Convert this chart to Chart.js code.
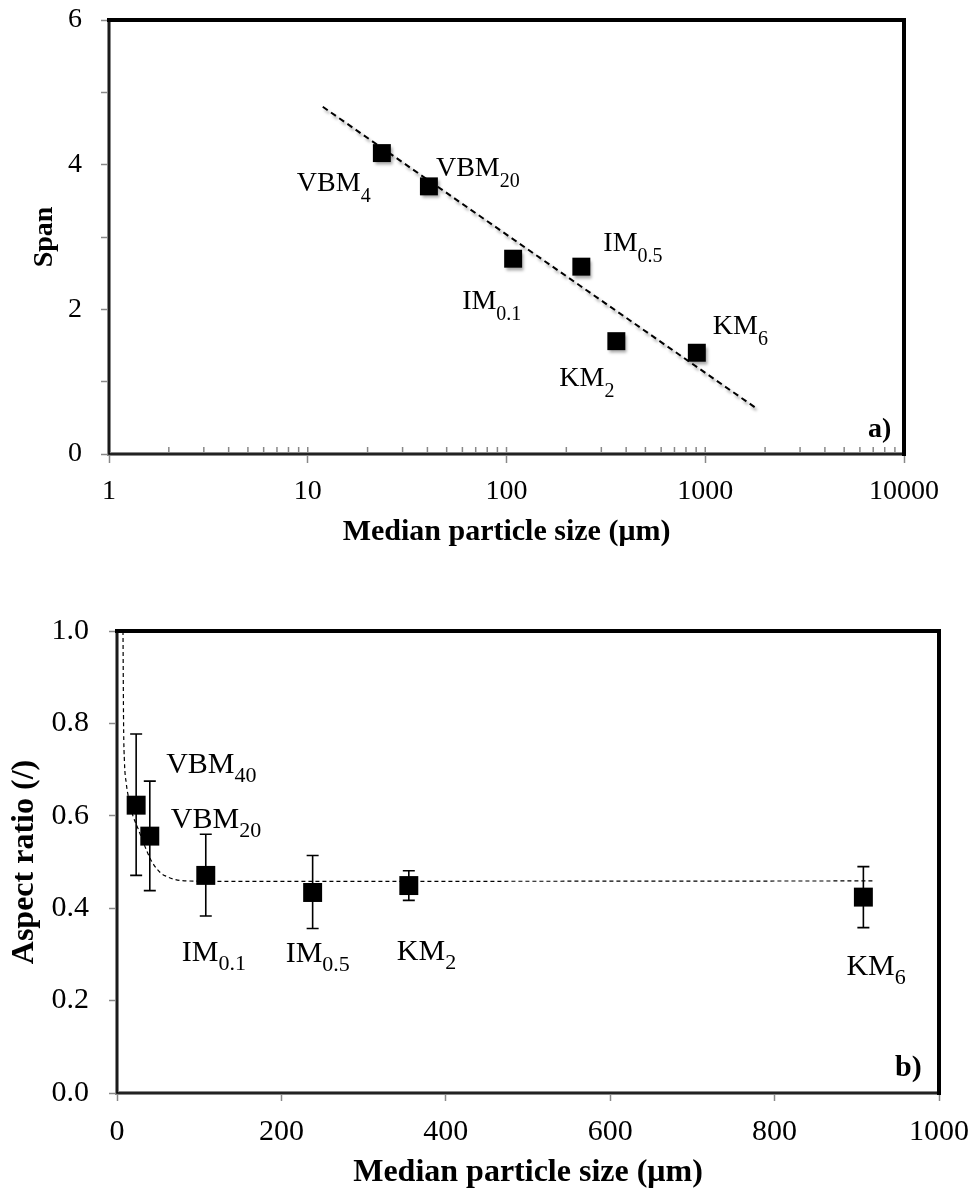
<!DOCTYPE html>
<html>
<head>
<meta charset="utf-8">
<script src="https://cdn.jsdelivr.net/npm/chart.js@4.4.1/dist/chart.umd.min.js"></script>
<style>
  body { margin: 0; background: #fff; }
  #wrap { position: relative; width: 975px; height: 1192px; }
  canvas { position: absolute; left: 0; }
  #spanChart { top: 0; }
  #ratioChart { top: 580px; }
</style>
</head>
<body>
<div id="wrap">
  <canvas id="spanChart" width="975" height="580"></canvas>
  <canvas id="ratioChart" width="975" height="612"></canvas>
</div>
<script>
// a) span vs median particle size (log x)
const spanSize = [23.6, 40.7, 108, 238, 357, 907];
const spanValue = [4.16, 3.70, 2.70, 2.59, 1.56, 1.40];
const spanMain = ['VBM', 'VBM', 'IM', 'IM', 'KM', 'KM'];
const spanSub = ['4', '20', '0.1', '0.5', '2', '6'];
const spanTrendX = [11.9, 1811];
const spanTrendY = [4.80, 0.63];
const spanXLabels = ['1', '10', '100', '1000', '10000'];
const spanYTicks = [0, 0.5, 1, 1.5, 2, 2.5, 3, 3.5, 4, 4.5, 5, 5.5, 6];
const spanYLabels = ['0', '', '', '', '2', '', '', '', '4', '', '', '', '6'];

// b) aspect ratio vs median particle size
const ratioSize = [23.3, 39.9, 108, 238, 355, 908];
const ratioValue = [0.623, 0.556, 0.471, 0.434, 0.449, 0.424];
const ratioErrHi = [0.777, 0.675, 0.560, 0.514, 0.481, 0.490];
const ratioErrLo = [0.471, 0.438, 0.383, 0.356, 0.417, 0.358];
const ratioMain = ['VBM', 'VBM', 'IM', 'IM', 'KM', 'KM'];
const ratioSub = ['40', '20', '0.1', '0.5', '2', '6'];
const fitX = [7.3, 8, 9, 11.3, 14, 19.4, 25, 30.4, 36, 42.6, 52.7, 60, 68.6, 85, 150, 920];
const fitY = [1.0, 0.8, 0.72, 0.67, 0.64, 0.60, 0.575, 0.55, 0.525, 0.50, 0.477, 0.469, 0.463, 0.459, 0.458, 0.459];
const ratioXTicks = [0, 200, 400, 600, 800, 1000];
const ratioXLabels = ['0', '200', '400', '600', '800', '1000'];
const ratioYTicks = [0, 0.2, 0.4, 0.6, 0.8, 1.0];
const ratioYLabels = ['0.0', '0.2', '0.4', '0.6', '0.8', '1.0'];

const FONT = 'Liberation Serif';

// log axis minor ticks 1..9 per decade
const spanXTicks = [];
[1, 10, 100, 1000].forEach(d => {
    for (let k = 1; k < 10; k++) spanXTicks.push(k * d);
});
spanXTicks.push(10000);

function pointNames(main, sub, dx, dy, size, subSize, subDrop, tag, tagDx, tagDy, tagSize) {
    return {
        id: 'pointNames',
        afterDatasetsDraw(chart) {
            const ctx = chart.ctx;
            const pts = chart.getDatasetMeta(0).data;
            ctx.save();
            ctx.fillStyle = '#000';
            ctx.textBaseline = 'alphabetic';
            ctx.textAlign = 'left';
            pts.forEach((p, i) => {
                const x = p.x + dx[i];
                const y = p.y + dy[i];
                ctx.font = size + 'px "' + FONT + '"';
                ctx.fillText(main[i], x, y);
                const w = ctx.measureText(main[i]).width;
                ctx.font = subSize + 'px "' + FONT + '"';
                ctx.fillText(sub[i], x + w, y + subDrop);
            });
            const a = chart.chartArea;
            ctx.font = 'bold ' + tagSize + 'px "' + FONT + '"';
            ctx.fillText(tag, a.right + tagDx, a.bottom + tagDy);
            ctx.restore();
        }
    };
}

function frame(innerXTicks) {
    return {
        id: 'frame',
        afterDraw(chart) {
            const ctx = chart.ctx;
            const a = chart.chartArea;
            ctx.save();
            // inner minor ticks on x axis
            if (innerXTicks) {
                const sx = chart.scales.x;
                ctx.strokeStyle = '#888';
                ctx.lineWidth = 1.5;
                sx.ticks.forEach((t, i) => {
                    const px = sx.getPixelForTick(i);
                    ctx.beginPath();
                    ctx.moveTo(px, a.bottom);
                    ctx.lineTo(px, a.bottom - 7);
                    ctx.stroke();
                });
            }
            ctx.strokeStyle = '#000';
            ctx.lineWidth = 1.6;
            ctx.beginPath();
            ctx.moveTo(a.left, a.top);
            ctx.lineTo(a.left, a.bottom);
            ctx.lineTo(a.right, a.bottom);
            ctx.stroke();
            ctx.lineWidth = 4;
            ctx.beginPath();
            ctx.moveTo(a.left - 2, a.top);
            ctx.lineTo(a.right, a.top);
            ctx.lineTo(a.right, a.bottom + 2);
            ctx.stroke();
            ctx.restore();
        }
    };
}

const shadow = {
    id: 'shadow',
    beforeDatasetsDraw(chart) {
        const ctx = chart.ctx;
        ctx.save();
        ctx.shadowColor = 'rgba(0,0,0,0.35)';
        ctx.shadowOffsetX = 2;
        ctx.shadowOffsetY = 3;
        ctx.shadowBlur = 3;
    },
    afterDatasetsDraw(chart) {
        chart.ctx.restore();
    }
};

function errorBars(hi, lo, cap) {
    return {
        id: 'errorBars',
        beforeDatasetsDraw(chart) {
            const ctx = chart.ctx;
            const ys = chart.scales.y;
            const pts = chart.getDatasetMeta(0).data;
            ctx.save();
            ctx.strokeStyle = '#000';
            ctx.lineWidth = 1.6;
            pts.forEach((p, i) => {
                const yh = ys.getPixelForValue(hi[i]);
                const yl = ys.getPixelForValue(lo[i]);
                ctx.beginPath();
                ctx.moveTo(p.x, yh); ctx.lineTo(p.x, yl);
                ctx.moveTo(p.x - cap, yh); ctx.lineTo(p.x + cap, yh);
                ctx.moveTo(p.x - cap, yl); ctx.lineTo(p.x + cap, yl);
                ctx.stroke();
            });
            ctx.restore();
        }
    };
}

// keep tick labels from pushing the plot area around
function fixSize(w, h) {
    return ax => {
        if (w) ax.width = w;
        if (h) ax.height = h;
        ax.paddingTop = 0;
        ax.paddingBottom = 0;
        ax.paddingLeft = 0;
        ax.paddingRight = 0;
    };
}

const tickGrid = { drawOnChartArea: false, tickLength: 8, tickWidth: 1.5, tickColor: '#888' };
const axisBorder = { color: '#888', width: 4 };

// Chart a)
new Chart(document.getElementById('spanChart'), {
    type: 'scatter',
    data: {
        datasets: [
            {
                data: spanSize.map((x, i) => ({ x: x, y: spanValue[i] })),
                pointStyle: 'rect',
                pointRadius: 12.7,
                backgroundColor: '#000',
                borderWidth: 0,
                order: 0
            },
            {
                data: spanTrendX.map((x, i) => ({ x: x, y: spanTrendY[i] })),
                showLine: true,
                borderColor: '#000',
                borderWidth: 2,
                borderDash: [6, 4],
                pointRadius: 0,
                order: 1
            }
        ]
    },
    options: {
        responsive: false,
        animation: false,
        events: [],
        layout: { padding: { top: 20, right: 71, left: 0, bottom: 0 } },
        plugins: { legend: { display: false }, tooltip: { enabled: false } },
        scales: {
            x: {
                type: 'logarithmic',
                min: 1,
                max: 10000,
                afterBuildTicks: ax => { ax.ticks = spanXTicks.map(v => ({ value: v })); },
                afterFit: fixSize(0, 126),
                ticks: {
                    autoSkip: false,
                    maxRotation: 0,
                    padding: 12,
                    color: '#000',
                    font: { family: FONT, size: 28 },
                    callback: v => spanXLabels.includes(String(v)) ? String(v) : ''
                },
                grid: {
                    drawOnChartArea: false,
                    tickLength: 9,
                    tickWidth: 1.5,
                    tickColor: c => (c.tick && spanXLabels.includes(String(c.tick.value))) ? '#888' : 'rgba(0,0,0,0)'
                },
                border: axisBorder,
                title: {
                    display: true,
                    text: 'Median particle size (μm)',
                    color: '#000',
                    font: { family: FONT, size: 30, weight: 'bold' },
                    padding: { top: 0, bottom: 30 }
                }
            },
            y: {
                min: 0,
                max: 6,
                afterBuildTicks: ax => { ax.ticks = spanYTicks.map(v => ({ value: v })); },
                afterFit: fixSize(109, 0),
                ticks: {
                    padding: 19,
                    color: '#000',
                    font: { family: FONT, size: 28 },
                    callback: (v, i) => spanYLabels[i]
                },
                grid: tickGrid,
                border: axisBorder,
                title: {
                    display: true,
                    text: 'Span',
                    color: '#000',
                    font: { family: FONT, size: 28, weight: 'bold' },
                    padding: { top: 28, bottom: 0 }
                }
            }
        }
    },
    plugins: [
        shadow,
        pointNames(spanMain, spanSub,
            [-85, 7, -51, 22, -57, 16],
            [38, -10, 50, -16, 45, -19],
            28, 20, 11, 'a)', -36, -17, 28),
        frame(true)
    ]
});

// Chart b)
new Chart(document.getElementById('ratioChart'), {
    type: 'scatter',
    data: {
        datasets: [
            {
                data: ratioSize.map((x, i) => ({ x: x, y: ratioValue[i] })),
                pointStyle: 'rect',
                pointRadius: 13.4,
                backgroundColor: '#000',
                borderWidth: 0,
                order: 0
            },
            {
                data: fitX.map((x, i) => ({ x: x, y: fitY[i] })),
                showLine: true,
                cubicInterpolationMode: 'monotone',
                borderColor: '#000',
                borderWidth: 1.2,
                borderDash: [4, 3],
                pointRadius: 0,
                order: 1
            }
        ]
    },
    options: {
        responsive: false,
        animation: false,
        events: [],
        layout: { padding: { top: 51, right: 36, left: 0, bottom: 0 } },
        plugins: { legend: { display: false }, tooltip: { enabled: false } },
        scales: {
            x: {
                min: 0,
                max: 1000,
                afterBuildTicks: ax => { ax.ticks = ratioXTicks.map(v => ({ value: v })); },
                afterFit: fixSize(0, 99),
                ticks: {
                    autoSkip: false,
                    maxRotation: 0,
                    padding: 13,
                    color: '#000',
                    font: { family: FONT, size: 30 },
                    callback: (v, i) => ratioXLabels[i]
                },
                grid: tickGrid,
                border: axisBorder,
                title: {
                    display: true,
                    text: 'Median particle size (μm)',
                    color: '#000',
                    font: { family: FONT, size: 32, weight: 'bold' },
                    padding: { top: 0, bottom: 0 }
                }
            },
            y: {
                min: 0,
                max: 1,
                afterBuildTicks: ax => { ax.ticks = ratioYTicks.map(v => ({ value: v })); },
                afterFit: fixSize(117, 0),
                ticks: {
                    padding: 20,
                    color: '#000',
                    font: { family: FONT, size: 30 },
                    callback: (v, i) => ratioYLabels[i]
                },
                grid: tickGrid,
                border: axisBorder,
                title: {
                    display: true,
                    text: 'Aspect ratio (/)',
                    color: '#000',
                    font: { family: FONT, size: 32, weight: 'bold' },
                    padding: { top: 6, bottom: 0 }
                }
            }
        }
    },
    plugins: [
        errorBars(ratioErrHi, ratioErrLo, 6),
        pointNames(ratioMain, ratioSub,
            [30, 21, -24, -27, -12, -17],
            [-32, -8, 86, 70, 74, 78],
            30, 22, 9, 'b)', -44, -17, 30),
        frame(false)
    ]
});
</script>
</body>
</html>
